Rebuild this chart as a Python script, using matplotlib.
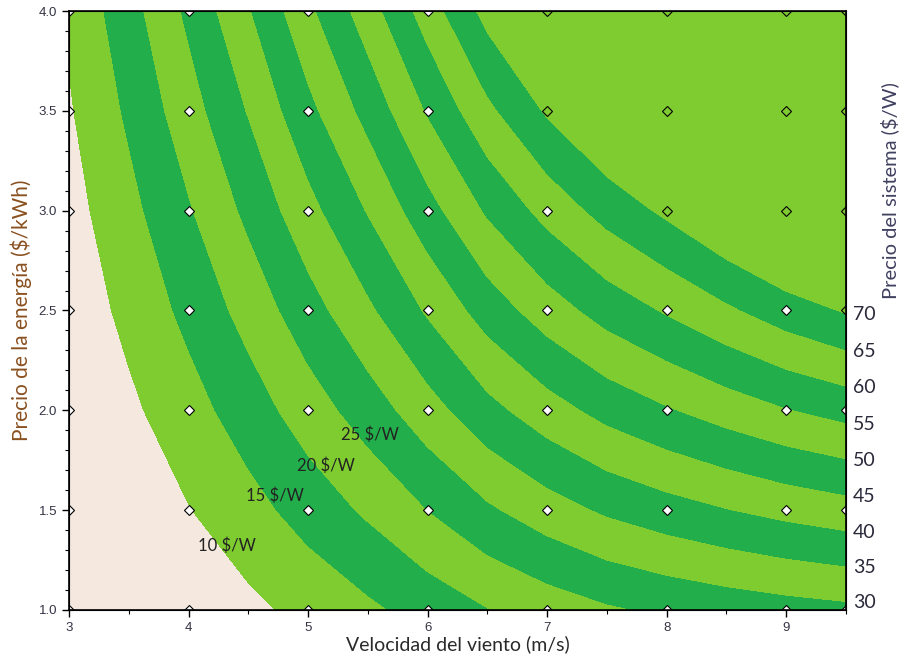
import numpy as np
import matplotlib.pyplot as plt

# wind speed (m/s) and energy price ($/kWh) grid
wind = [3.0, 3.5, 4.0, 4.5, 5.0, 5.5, 6.0, 6.5, 7.0, 7.5, 8.0, 8.5, 9.0, 9.5]
price = [1.0, 1.5, 2.0, 2.5, 3.0, 3.5, 4.0]

sys_10 = [2.7, 4.5, 6.5, 8.8, 11.4, 14.0, 16.9, 19.8, 22.2, 24.3, 25.8, 27.0, 28.0, 28.8]
sys_15 = [4.1, 6.8, 9.8, 13.2, 17.0, 20.8, 25.0, 29.2, 32.7, 35.7, 37.9, 39.8, 41.5, 42.9]
sys_20 = [5.4, 9.0, 13.0, 17.5, 22.5, 27.4, 32.9, 38.4, 42.8, 46.6, 49.5, 52.2, 54.7, 56.7]
sys_25 = [6.8, 11.3, 16.3, 21.8, 27.9, 34.0, 40.6, 47.2, 52.5, 57.0, 60.5, 64.1, 67.6, 70.4]
sys_30 = [8.1, 13.5, 19.5, 26.1, 33.3, 40.3, 48.1, 55.6, 61.7, 66.8, 71.0, 75.6, 80.1, 83.8]
sys_35 = [9.5, 15.8, 22.8, 30.3, 38.6, 46.6, 55.4, 63.8, 70.6, 76.2, 80.9, 86.6, 92.3, 97.0]
sys_40 = [10.8, 18.0, 26.0, 34.5, 43.8, 52.6, 62.4, 71.7, 79.0, 85.1, 90.3, 97.2, 104.2, 110.0]

levels = [0, 10, 15, 20, 25, 30, 35, 40, 45, 50, 55, 60, 65, 70, 200]
right_ticks = [30, 35, 40, 45, 50, 55, 60, 65, 70]
marker_wind = [3, 4, 5, 6, 7, 8, 9, 9.5]

labels = ['10 $/W', '15 $/W', '20 $/W', '25 $/W']
label_pos = [(4.32, 1.32), (4.72, 1.57), (5.15, 1.72), (5.52, 1.88)]

Z = np.array([sys_10, sys_15, sys_20, sys_25, sys_30, sys_35, sys_40])

beige = '#F4E8DF'
light = '#7FCC31'
dark = '#22AF4B'
band_colors = [beige] + [light if i % 2 == 0 else dark for i in range(13)]

plt.rcParams['font.family'] = ['Lato', 'DejaVu Sans']

fig = plt.figure(figsize=(9.04, 6.6), dpi=100)
ax = fig.add_axes([0.0763, 0.0758, 0.8595, 0.9075])

ax.contourf(wind, price, Z, levels=levels, colors=band_colors)

# grid markers, hollow where the system price is above the last level
for w in marker_wind:
    j = wind.index(w)
    for i, p in enumerate(price):
        face = 'none' if Z[i, j] > levels[-2] else 'white'
        ax.plot(w, p, 'D', ms=5.5, mfc=face, mec='black', mew=0.8)

for txt, (x, y) in zip(labels, label_pos):
    ax.text(x, y, txt, fontsize=12, color='#222222', ha='center', va='center')

ax.set_xlim(3, 9.5)
ax.set_ylim(1.0, 4.0)
ax.set_xticks([3, 4, 5, 6, 7, 8, 9])
ax.set_xticks(np.arange(3, 9.6, 0.5), minor=True)
ax.set_yticks([1.0, 1.5, 2.0, 2.5, 3.0, 3.5, 4.0])
ax.set_yticks(np.arange(1.0, 4.01, 0.1), minor=True)
ax.set_yticklabels(['1.0', '1.5', '2.0', '2.5', '3.0', '3.5', '4.0'])
for lab in ax.get_xticklabels() + ax.get_yticklabels():
    lab.set_family('Liberation Sans')
ax.tick_params(which='major', length=5, width=1, labelsize=9.5, labelcolor='#333344')
ax.tick_params(which='minor', length=3, width=0.8)
for s in ax.spines.values():
    s.set_linewidth(1.2)

ax.set_xlabel('Velocidad del viento (m/s)', fontsize=14, color='#2a2a2a', labelpad=1)
ax.set_ylabel('Precio de la energía ($/kWh)', fontsize=15, color='#8a5020', labelpad=5)

# right axis: where each level meets the right edge
ax2 = ax.twinx()
ax2.set_ylim(1.0, 4.0)
ax2.set_yticks(np.interp(right_ticks, Z[:, -1], price))
ax2.set_yticklabels([str(t) for t in right_ticks])
ax2.tick_params(length=0, labelsize=14, pad=5, labelcolor='#2a2a3a')
ax2.set_ylabel('Precio del sistema ($/W)', fontsize=14.5, color='#404060')
ax2.yaxis.set_label_coords(1.044, 0.70)

fig.savefig('out.png', dpi=100)
